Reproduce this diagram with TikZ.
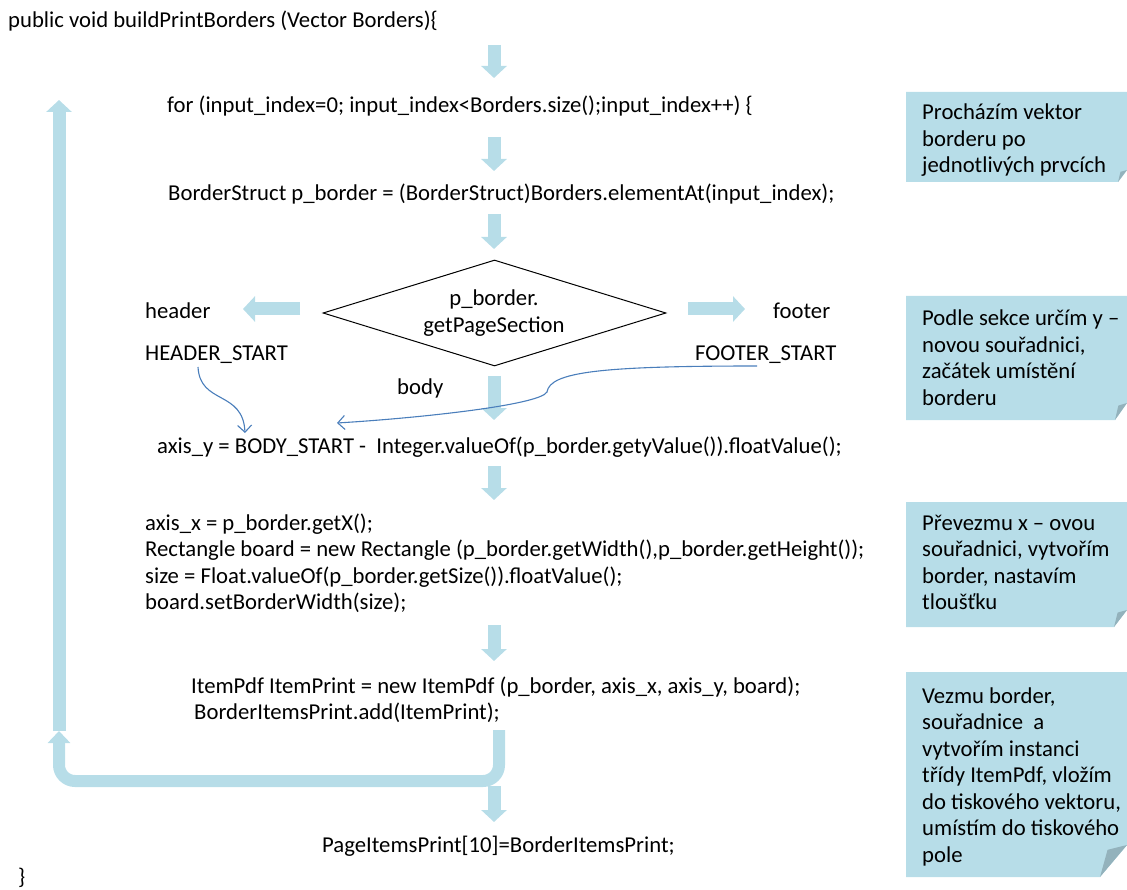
\documentclass[tikz,border=0pt]{standalone}
\usepackage{fontspec}
\setmainfont{Carlito}
\usetikzlibrary{arrows.meta,shapes.geometric,calc}
\definecolor{flowblue}{HTML}{B7DDE8}
\definecolor{notefold}{HTML}{93B2BC}
\definecolor{linkblue}{HTML}{4A7EBB}
\newcommand\codefont{\fontsize{22.7pt}{26.5pt}\selectfont}
% lines of text stacked with the first baseline as reference
\newcommand\lines[1]{\begin{tabular}[t]{@{}l@{}}#1\end{tabular}}
% sticky note: top, bottom, fold width, fold height
\newcommand\stickynote[4]{%
  \fill[flowblue] (906,#1) -- (1127,#1) -- (1127,#2-#4) -- (1127-#3,#2) -- (906,#2) -- cycle;
  \fill[notefold] (1127-#3,#2) -- (1127,#2-#4) -- (1127-0.72*#3,#2-0.85*#4) -- cycle;}
\begin{document}
\begin{tikzpicture}[x=1pt,y=-1pt,
  txt/.style={anchor=base west,inner sep=0pt,font=\codefont},
  flow/.style={draw=flowblue,line width=13pt,-{Triangle[width=25pt,length=12pt]}},
  link/.style={draw=linkblue,line width=1.1pt,-{Straight Barb[length=7pt,width=14pt]}}]
\useasboundingbox (0,0) rectangle (1127,890);

% code lines
\node[txt] (head) at (8,28) {public void buildPrintBorders (Vector Borders)\{};
\node[txt] (forl) at (167,113) {for (input\_index=0; input\_index<Borders.size();input\_index++) \{};
\node[txt] (elem) at (168,201) {BorderStruct p\_border = (BorderStruct)Borders.elementAt(input\_index);};
\node[diamond,draw,line width=1pt,minimum width=343pt,minimum height=106pt,inner sep=0pt] (sect) at (494.5,313) {};
\node[txt,anchor=base] (secttxt) at (494,306) {\begin{tabular}[t]{@{}c@{}}p\_border.\\getPageSection\end{tabular}};
\node[txt] (hdr) at (145,319) {header};
\node[txt] (hstart) at (145,361) {HEADER\_START};
\node[txt] (ftr) at (773,319) {footer};
\node[txt] (fstart) at (695,361) {FOOTER\_START};
\node[txt] (body) at (397,395) {body};
\node[txt] (axy) at (157,453) {axis\_y = BODY\_START -\ \ Integer.valueOf(p\_border.getyValue()).floatValue();};
\node[txt] (rect) at (145,530) {\lines{axis\_x = p\_border.getX();\\
  Rectangle board = new Rectangle (p\_border.getWidth(),p\_border.getHeight());\\
  size = Float.valueOf(p\_border.getSize()).floatValue();\\
  board.setBorderWidth(size);}};
\node[txt] (item) at (191,693) {\lines{ItemPdf ItemPrint = new ItemPdf (p\_border, axis\_x, axis\_y, board);\\
  \hspace*{3pt}BorderItemsPrint.add(ItemPrint);}};
\node[txt] (page) at (322,852) {PageItemsPrint[10]=BorderItemsPrint;};
\node[txt] (close) at (18,884) {\}};

% flow arrows
\coordinate (d1a) at (494,45);  \coordinate (d1b) at (494,78);
\coordinate (d2a) at (494,137); \coordinate (d2b) at (494,171);
\coordinate (d3a) at (494,214); \coordinate (d3b) at (494,249);
\coordinate (d4a) at (494,376); \coordinate (d4b) at (494,420);
\coordinate (d5a) at (494,466); \coordinate (d5b) at (494,500);
\coordinate (d6a) at (494,625); \coordinate (d6b) at (494,661);
\coordinate (d7a) at (494,786); \coordinate (d7b) at (494,822);
\coordinate (la) at (300,309);  \coordinate (lb) at (243,309);
\coordinate (ra) at (688,309);  \coordinate (rb) at (745,309);
\foreach \p in {1,...,7} {\draw[flow] (d\p a) -- (d\p b);}
\draw[flow] (la) -- (lb);
\draw[flow] (ra) -- (rb);

% loop back to the for statement
\coordinate (lp0) at (499,730);
\coordinate (lp1) at (499,781);
\coordinate (lp2) at (59,781);
\coordinate (lp3) at (59,731);
\coordinate (lp4) at (59,100);
\draw[draw=flowblue,line width=12pt,rounded corners=16pt,-{Triangle[width=22pt,length=12pt]}]
  (lp0) -- (lp1) -- (lp2) -- (lp3);
\draw[flow] (lp3) -- (lp4);

% section start values feeding axis_y
\coordinate (hs) at (198,367);
\coordinate (he) at (245,433);
\coordinate (fs) at (757,366);
\coordinate (fm) at (547,392);
\coordinate (fe) at (337,423);
\draw[link] (hs) .. controls (200,405) and (243,390) .. (he);
\draw[link] (fs) .. controls (600,366) and (550,372) .. (fm)
  .. controls (540,405) and (420,418) .. (fe);

% side notes
\stickynote{92}{182}{9}{12}
\stickynote{296}{420}{12}{17}
\stickynote{502}{627}{13}{17}
\stickynote{672}{877}{27}{32}
\node[txt] (note1) at (922,120) {\lines{Procházím vektor\\borderu po\\jednotlivých prvcích}};
\node[txt] (note2) at (922,326) {\lines{Podle sekce určím y –\\novou souřadnici,\\začátek umístění\\borderu}};
\node[txt] (note3) at (922,530) {\lines{Převezmu x – ovou\\souřadnici, vytvořím\\border, nastavím\\tloušťku}};
\node[txt] (note4) at (922,703) {\lines{Vezmu border,\\souřadnice\ \ a\\vytvořím instanci\\třídy ItemPdf, vložím\\do tiskového vektoru,\\umístím do tiskového\\pole}};
\end{tikzpicture}
\end{document}
